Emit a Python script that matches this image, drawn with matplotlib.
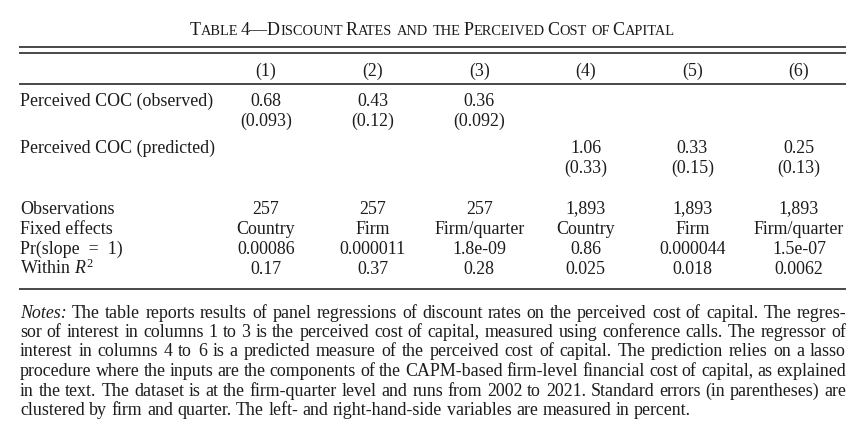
import matplotlib
matplotlib.use("Agg")
import matplotlib.pyplot as plt

# table content
title_ = "Table 4\u2014Discount Rates and the Perceived Cost of Capital"
columns_ = ["(1)", "(2)", "(3)", "(4)", "(5)", "(6)"]
coc_obs = ["0.68", "0.43", "0.36", "", "", ""]
coc_obs_se = ["(0.093)", "(0.12)", "(0.092)", "", "", ""]
coc_pred = ["", "", "", "1.06", "0.33", "0.25"]
coc_pred_se = ["", "", "", "(0.33)", "(0.15)", "(0.13)"]
observations = ["257", "257", "257", "1,893", "1,893", "1,893"]
fixed_effects = ["Country", "Firm", "Firm/quarter", "Country", "Firm", "Firm/quarter"]
pr_slope = ["0.00086", "0.000011", "1.8e-09", "0.86", "0.000044", "1.5e-07"]
within_r2 = ["0.17", "0.37", "0.28", "0.025", "0.018", "0.0062"]
notes_ = [
    "Notes: The table reports results of panel regressions of discount rates on the perceived cost of capital. The regres-",
    "sor of interest in columns 1 to 3 is the perceived cost of capital, measured using conference calls. The regressor of",
    "interest in columns 4 to 6 is a predicted measure of the perceived cost of capital. The prediction relies on a lasso",
    "procedure where the inputs are the components of the CAPM-based firm-level financial cost of capital, as explained",
    "in the text. The dataset is at the firm-quarter level and runs from 2002 to 2021. Standard errors (in parentheses) are",
    "clustered by firm and quarter. The left- and right-hand-side variables are measured in percent.",
]

FONT_ = "Liberation Serif"
INK_ = "#1c1c1c"
RULE_ = "#3a3a3a"
plt.rcParams["font.family"] = [FONT_, "DejaVu Serif"]
plt.rcParams["mathtext.fontset"] = "custom"
plt.rcParams["mathtext.rm"] = FONT_
plt.rcParams["mathtext.it"] = FONT_ + ":italic"

W_, H_ = 865, 430
fig = plt.figure(figsize=(W_ / 100, H_ / 100), dpi=100)
ax = fig.add_axes([0, 0, 1, 1])
ax.set_xlim(0, W_)
ax.set_ylim(H_, 0)                      # pixel coordinates, y downwards
ax.axis("off")
rend = fig.canvas.get_renderer()

LEFT_, RIGHT_ = 19, 846
col_x = [266, 372.6, 479.2, 585.8, 692.4, 799]
FS_ = 12.9                              # table font size
BL_ = 5.5                               # baseline below visual centre


def width(s, size, style="normal"):     # width of a string in pixels
    t = ax.text(0, 0, s, fontsize=size, style=style)
    w = t.get_window_extent(renderer=rend).width
    t.remove()
    return w


def small_caps(s, xc, y, big, small):   # title in small capitals, centred on xc
    runs = []
    for ch in s:
        sz = small if ch.islower() else big
        if runs and runs[-1][1] == sz:
            runs[-1][0] += ch.upper()
        else:
            runs.append([ch.upper(), sz])
    sp = {big: width("A A", big) - width("AA", big), small: width("A A", small) - width("AA", small)}
    ws = []
    for r, sz in runs:                  # measure without trailing/leading spaces
        core = r.strip(" ")
        w = width(core, sz) if core else 0
        w += sp[sz] * (len(r) - len(r.lstrip(" ")) + len(r) - len(r.rstrip(" ")))
        ws.append(w)
    x = xc - sum(ws) / 2
    for (r, sz), w in zip(runs, ws):
        lead = len(r) - len(r.lstrip(" "))
        ax.text(x + lead * sp[sz], y, r.strip(" "), fontsize=sz, color=INK_, va="baseline", ha="left")
        x += w


def row(label, vals, yc):               # one table row
    if label:
        ax.text(LEFT_ + 1, yc + BL_, label, fontsize=FS_, color=INK_, va="baseline", ha="left")
    for x, v in zip(col_x, vals):
        if v:
            ax.text(x, yc + BL_, v, fontsize=FS_, color=INK_, va="baseline", ha="center")


def rule(y):
    ax.plot([LEFT_, RIGHT_], [y, y], color=RULE_, lw=1.3, solid_capstyle="butt")


def notes(lines, y0, dy, size):         # justified note lines
    sp = width("a a", size) - width("aa", size)
    for i, line in enumerate(lines):
        words = line.split(" ")
        styles = ["italic" if (i == 0 and j == 0) else "normal" for j in range(len(words))]
        ws = [width(w, size, st) for w, st in zip(words, styles)]
        if i < len(lines) - 1:
            gap = (RIGHT_ - (LEFT_ + 1) - sum(ws)) / (len(words) - 1)
        else:
            gap = sp
        x = LEFT_ + 1
        y = y0 + i * dy
        for w, wd, st in zip(words, ws, styles):
            ax.text(x, y + BL_, w, fontsize=size, style=st, color=INK_, va="baseline", ha="left")
            x += wd + gap


small_caps(title_, 432, 30 + 5, 13.0, 10.4)

rule(47.3)
rule(53.3)
row("", columns_, 70)
rule(83.5)
row("Perceived COC (observed)", coc_obs, 100.5)
row("", coc_obs_se, 120)
row("Perceived COC (predicted)", coc_pred, 147.5)
row("", coc_pred_se, 167)
row("Observations", observations, 208)
row("Fixed effects", fixed_effects, 228)
row("Pr(slope  =  1)", pr_slope, 248)
row("Within $\\mathit{R}^2$", within_r2, 268)
rule(289)

notes(notes_, 312, 19.5, 12.9)

fig.savefig("out.png", dpi=100, facecolor="white")
plt.close()
